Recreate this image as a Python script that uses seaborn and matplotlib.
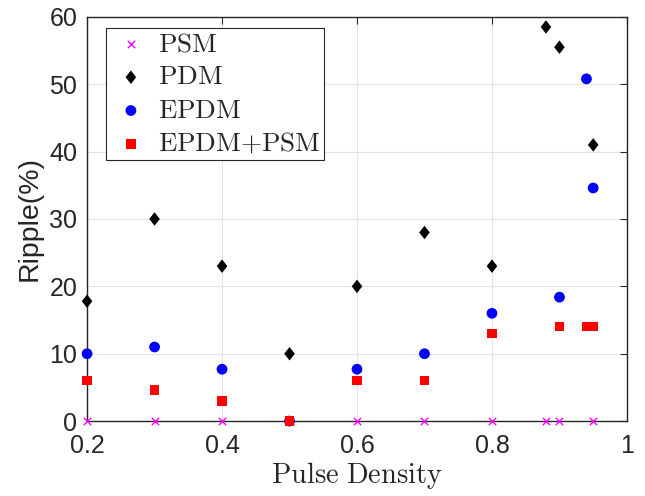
import matplotlib
matplotlib.use("Agg")
import matplotlib.pyplot as plt
import seaborn as sns
import pandas as pd

# Ripple (%) versus pulse density for each modulation scheme
psm_x = [0.2, 0.3, 0.4, 0.5, 0.6, 0.7, 0.8, 0.88, 0.9, 0.95]
psm_y = [0, 0, 0, 0, 0, 0, 0, 0, 0, 0]

pdm_x = [0.2, 0.3, 0.4, 0.5, 0.6, 0.7, 0.8, 0.88, 0.9, 0.95]
pdm_y = [17.8, 30, 23, 10, 20, 28, 23, 58.5, 55.5, 41]

epdm_x = [0.2, 0.3, 0.4, 0.5, 0.6, 0.7, 0.8, 0.9, 0.94, 0.95]
epdm_y = [10, 11, 7.7, 0, 7.7, 10, 16, 18.4, 50.8, 34.6]

epdm_psm_x = [0.2, 0.3, 0.4, 0.5, 0.6, 0.7, 0.8, 0.9, 0.94, 0.95]
epdm_psm_y = [6, 4.6, 3, 0, 6, 6, 13, 14, 14, 14]

x_ticks = [0.2, 0.4, 0.6, 0.8, 1.0]
x_tick_labels = ["0.2", "0.4", "0.6", "0.8", "1"]
y_ticks = [0, 10, 20, 30, 40, 50, 60]

sns.set_style("white")
plt.rcParams["font.family"] = ["Liberation Sans", "DejaVu Sans"]
plt.rcParams["mathtext.fontset"] = "cm"

fig = plt.figure(figsize=(6.45, 4.96), dpi=100)
ax = fig.add_axes([0.135, 0.151, 0.837, 0.815])

# wide diamond like the classic MATLAB marker
diamond = [(0, 1), (0.78, 0), (0, -1), (-0.78, 0), (0, 1)]

series = [
    ("PSM", psm_x, psm_y, "x", "#ff00ff", 28, 1.0),
    ("PDM", pdm_x, pdm_y, diamond, "black", 95, 0),
    ("EPDM", epdm_x, epdm_y, "o", "#0000ff", 60, 0),
    ("EPDM+PSM", epdm_psm_x, epdm_psm_y, "s", "#ff0000", 45, 0),
]

for name, xs, ys, mk, col, sz, lw in series:
    df = pd.DataFrame({"Pulse Density": xs, "Ripple": ys})
    sns.scatterplot(data=df, x="Pulse Density", y="Ripple", marker=mk,
                    color=col, s=sz, linewidth=lw,
                    edgecolor=col if isinstance(mk, str) and mk == "x" else "none",
                    ax=ax, zorder=3, clip_on=False, label=name)

ax.set_xlim(0.2, 1.0)
ax.set_ylim(0, 60)
ax.set_xticks(x_ticks)
ax.set_xticklabels(x_tick_labels)
ax.set_yticks(y_ticks)
ax.tick_params(axis="both", which="both", direction="in", top=True, right=True,
               labelsize=18, length=5, width=0.8, colors="#262626")
ax.tick_params(axis="x", pad=9)
ax.tick_params(axis="y", pad=7)
ax.grid(True, color="#e3e3e3", linewidth=0.8, zorder=0)
ax.set_axisbelow(True)
for sp in ax.spines.values():
    sp.set_color("#262626")
    sp.set_linewidth(1.0)

ax.set_xlabel(r"$\mathrm{Pulse\ Density}$", fontsize=20.5, color="#262626", labelpad=2)
ax.set_ylabel("Ripple(%)", fontsize=20.5, color="#262626", labelpad=5)

leg_labels = [r"$\mathrm{PSM}$", r"$\mathrm{PDM}$", r"$\mathrm{EPDM}$", r"$\mathrm{EPDM{+}PSM}$"]
h, _ = ax.get_legend_handles_labels()
leg = ax.legend(h, leg_labels, loc="upper left", bbox_to_anchor=(0.035, 0.973),
                fontsize=19.5, frameon=True, fancybox=False, edgecolor="#262626",
                framealpha=1, borderpad=0.12, labelspacing=0.27, handletextpad=0.2,
                handlelength=1.6, borderaxespad=0)
leg.get_frame().set_linewidth(0.8)

fig.savefig("out.png", dpi=100)
